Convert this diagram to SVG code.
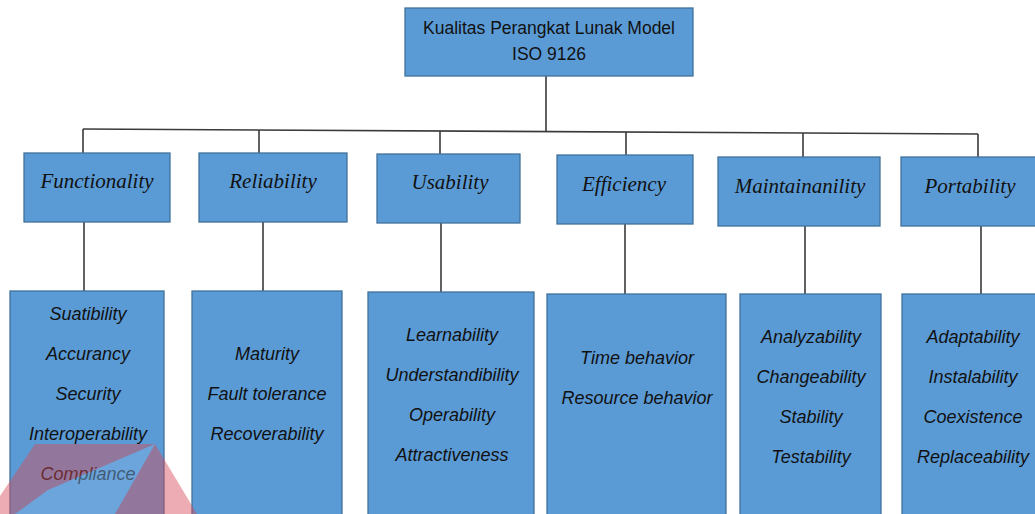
<svg xmlns="http://www.w3.org/2000/svg" width="1035" height="514" viewBox="0 0 1035 514">
<style>
.box{fill:#5b9bd5;stroke:#41719c;stroke-width:1.3}
.ln{stroke:#3a3a3a;stroke-width:1.6;fill:none}
.hd{font-family:"Liberation Serif",serif;font-style:italic;font-size:21px;fill:#111;text-anchor:middle}
.it{font-family:"Liberation Sans",sans-serif;font-style:italic;font-size:18px;fill:#111;text-anchor:middle}
.tp{font-family:"Liberation Sans",sans-serif;font-size:17.5px;fill:#111;text-anchor:middle}
</style>
<rect width="1035" height="514" fill="#fff"/>
<g id="connectors">
<line class="ln" x1="546" y1="76" x2="546" y2="131"/>
<line class="ln" x1="83" y1="129" x2="978" y2="134"/>
<line class="ln" x1="83" y1="129" x2="83" y2="153"/>
<line class="ln" x1="259" y1="130" x2="259" y2="153"/>
<line class="ln" x1="440" y1="131" x2="440" y2="154"/>
<line class="ln" x1="626" y1="132" x2="626" y2="155"/>
<line class="ln" x1="803" y1="133" x2="803" y2="157"/>
<line class="ln" x1="978" y1="134" x2="978" y2="157"/>
<line class="ln" x1="84" y1="222" x2="84" y2="291"/>
<line class="ln" x1="263" y1="222" x2="263" y2="291"/>
<line class="ln" x1="441" y1="223" x2="441" y2="292"/>
<line class="ln" x1="625" y1="224" x2="625" y2="294"/>
<line class="ln" x1="805" y1="226" x2="805" y2="294"/>
<line class="ln" x1="981" y1="226" x2="981" y2="294"/>
</g>
<g id="root">
<rect class="box" x="405" y="8" width="288" height="68"/>
<text class="tp" x="549" y="34">Kualitas Perangkat Lunak Model</text>
<text class="tp" x="549" y="60">ISO 9126</text>
</g>
<g id="functionality">
<rect class="box" x="24" y="153" width="146" height="69"/>
<text class="hd" x="97" y="188">Functionality</text>
</g>
<g id="reliability">
<rect class="box" x="199" y="153" width="148" height="69"/>
<text class="hd" x="273" y="188">Reliability</text>
</g>
<g id="usability">
<rect class="box" x="377" y="154" width="143" height="69"/>
<text class="hd" x="450" y="189">Usability</text>
</g>
<g id="efficiency">
<rect class="box" x="557" y="155" width="136" height="69"/>
<text class="hd" x="624" y="191">Efficiency</text>
</g>
<g id="maintainanility">
<rect class="box" x="718" y="157" width="162" height="69"/>
<text class="hd" x="800" y="193">Maintainanility</text>
</g>
<g id="portability">
<rect class="box" x="901" y="157" width="140" height="69"/>
<text class="hd" x="970" y="193">Portability</text>
</g>
<g id="functionality-items">
<rect class="box" x="10" y="291" width="154" height="230"/>
<text class="it" x="88" y="320">Suatibility</text>
<text class="it" x="88" y="360">Accurancy</text>
<text class="it" x="88" y="400">Security</text>
<text class="it" x="88" y="440">Interoperability</text>
<text class="it" x="88" y="480" fill="#5a1020">Compliance</text>
</g>
<g id="reliability-items">
<rect class="box" x="192" y="291" width="150" height="230"/>
<text class="it" x="267" y="360">Maturity</text>
<text class="it" x="267" y="400">Fault tolerance</text>
<text class="it" x="267" y="440">Recoverability</text>
</g>
<g id="usability-items">
<rect class="box" x="368" y="292" width="166" height="230"/>
<text class="it" x="452" y="341">Learnability</text>
<text class="it" x="452" y="381">Understandibility</text>
<text class="it" x="452" y="421">Operability</text>
<text class="it" x="452" y="461">Attractiveness</text>
</g>
<g id="efficiency-items">
<rect class="box" x="547" y="294" width="179" height="230"/>
<text class="it" x="637" y="364">Time behavior</text>
<text class="it" x="637" y="404">Resource behavior</text>
</g>
<g id="maintainanility-items">
<rect class="box" x="740" y="294" width="141" height="230"/>
<text class="it" x="811" y="343">Analyzability</text>
<text class="it" x="811" y="383">Changeability</text>
<text class="it" x="811" y="423">Stability</text>
<text class="it" x="811" y="463">Testability</text>
</g>
<g id="portability-items">
<rect class="box" x="902" y="294" width="140" height="230"/>
<text class="it" x="973" y="343">Adaptability</text>
<text class="it" x="973" y="383">Instalability</text>
<text class="it" x="973" y="423">Coexistence</text>
<text class="it" x="973" y="463">Replaceability</text>
</g>
<g id="watermark" opacity="0.45">
<polygon points="0,496 35,444 155,444 197,514 0,514" fill="#d84a58"/>
<polygon points="155,444 48,490 15,514 115,514" fill="#7fb3e6"/>
</g>
</svg>
